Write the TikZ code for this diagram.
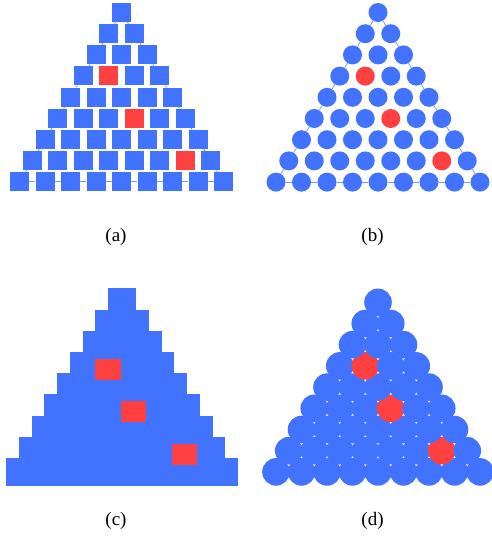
\documentclass[tikz,border=0pt]{standalone}
\usepackage{fontspec}
\setmainfont{Liberation Serif}
\definecolor{bluec}{RGB}{66,115,255}
\definecolor{redc}{RGB}{255,64,64}
\definecolor{edgec}{RGB}{120,150,255}

\begin{document}
\begin{tikzpicture}[x=1pt, y=-1pt,
  cell/.style={rectangle, inner sep=0pt, minimum size=19pt},
  bead/.style={circle, inner sep=0pt, minimum size=19pt},
  bigcell/.style={rectangle, inner sep=0pt, minimum size=28pt},
  bigbead/.style={circle, inner sep=0pt, minimum size=27.6pt},
  edge/.style={edgec, line width=0.8pt},
  caption/.style={font=\fontsize{19}{23}\selectfont}]
\useasboundingbox (0,0) rectangle (492,542);

% four copies of the same lattice, rows drawn bottom to top
\foreach \p/\xo/\yo/\sty in {a/121.5/12.2/cell, b/378/12.5/bead,
                             c/122/302.3/bigcell, d/378/302.3/bigbead} {
  \foreach \r in {8,...,0} {
    \foreach \c in {0,...,\r} {
      \pgfmathtruncatemacro\hot{(\r==3&&\c==1)||(\r==5&&\c==3)||(\r==7&&\c==6)}
      \ifnum\hot=1 \def\tint{redc}\else\def\tint{bluec}\fi
      \node[\sty, fill=\tint] (\p-\r-\c) at ({\xo+(\c-\r/2)*25.5},{\yo+\r*21.2}) {};
    }
  }
}

% outline of the triangle between neighbours
\foreach \p in {a,b} {
  \foreach \r [evaluate=\r as \s using int(\r+1)] in {0,...,7} {
    \draw[edge] (\p-\r-0) -- (\p-\s-0);
    \draw[edge] (\p-\r-\r) -- (\p-\s-\s);
    \draw[edge] (\p-8-\r) -- (\p-8-\s);
  }
}

\node[caption] (lbl-a) at (116,237) {(a)};
\node[caption] (lbl-b) at (372.5,237) {(b)};
\node[caption] (lbl-c) at (116,521) {(c)};
\node[caption] (lbl-d) at (372.5,521) {(d)};
\end{tikzpicture}
\end{document}
